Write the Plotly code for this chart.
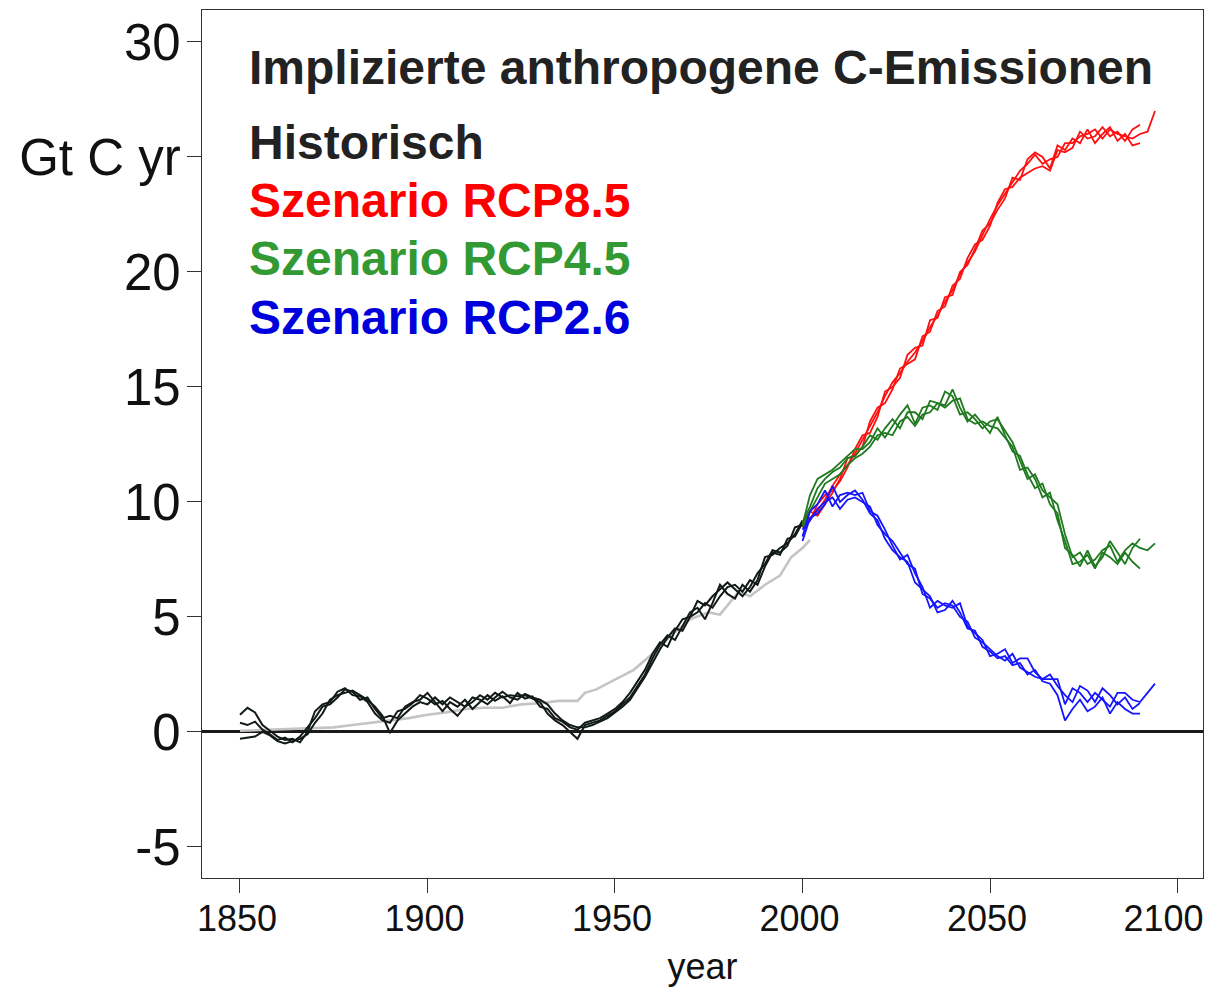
import plotly.graph_objects as go

# ---------------- data ----------------
hist_years = list(range(1850, 2001, 2))
hist_1 = [0.75, 1.05, 0.85, 0.30, 0.05, -0.20, -0.35, -0.30, -0.45, 0.00,
          0.90, 1.20, 1.30, 1.75, 1.90, 1.60, 1.55, 1.30, 0.80, 0.50,
          0.40, 0.90, 1.00, 1.25, 1.60, 1.45, 1.20, 1.35, 1.00, 0.70,
          1.10, 1.30, 1.60, 1.40, 1.70, 1.50, 1.60, 1.55, 1.60, 1.45,
          1.30, 0.80, 0.50, 0.30, 0.00, -0.30, 0.30, 0.40, 0.50, 0.70,
          0.90, 1.20, 1.50, 2.00, 2.50, 3.20, 3.80, 4.20, 4.00, 4.60,
          5.20, 5.40, 4.90, 5.60, 6.40, 6.00, 5.80, 6.40, 6.10, 6.60,
          7.60, 7.70, 8.00, 8.20, 8.60, 9.20]
hist_2 = [0.40, 0.30, 0.45, 0.10, -0.10, -0.35, -0.25, -0.45, -0.20, 0.20,
          0.60, 1.10, 1.20, 1.50, 1.85, 1.75, 1.40, 1.50, 1.00, 0.60,
          0.70, 0.60, 1.10, 1.30, 1.40, 1.70, 1.30, 0.90, 1.30, 1.10,
          1.40, 1.00, 1.30, 1.60, 1.35, 1.55, 1.25, 1.70, 1.45, 1.55,
          1.10, 1.00, 0.60, 0.45, 0.20, 0.10, 0.40, 0.50, 0.60, 0.80,
          1.00, 1.30, 1.70, 2.20, 2.70, 3.40, 3.90, 3.70, 4.40, 4.90,
          5.00, 5.70, 5.50, 5.90, 6.20, 6.50, 6.20, 5.90, 6.30, 6.90,
          7.30, 7.90, 7.80, 8.10, 8.90, 9.00]
hist_3 = [-0.30, -0.25, -0.20, 0.00, -0.15, -0.40, -0.50, -0.40, -0.30, -0.10,
          0.40, 0.80, 1.40, 1.60, 1.70, 1.80, 1.60, 1.40, 1.10, 0.70,
          -0.05, 0.50, 0.80, 1.10, 1.30, 1.20, 1.50, 1.20, 1.50, 1.30,
          1.10, 1.50, 1.40, 1.20, 1.50, 1.75, 1.50, 1.40, 1.65, 1.50,
          1.40, 1.20, 0.80, 0.50, 0.30, 0.20, 0.20, 0.30, 0.45, 0.60,
          0.85, 1.10, 1.40, 1.90, 2.40, 3.00, 3.60, 4.10, 4.50, 4.40,
          5.00, 5.20, 5.60, 5.40, 5.90, 6.30, 6.40, 6.10, 6.60, 6.40,
          7.20, 7.80, 7.70, 8.40, 8.50, 9.10]

smooth_years = [1850, 1855, 1860, 1865, 1870, 1875, 1880, 1885, 1890, 1895,
                1900, 1905, 1910, 1915, 1920, 1925, 1930, 1935, 1940, 1942,
                1945, 1948, 1950, 1955, 1960, 1965, 1970, 1975, 1978, 1980,
                1983, 1986, 1990, 1994, 1997, 2000, 2002]
smooth_hist = [0.05, 0.08, 0.10, 0.12, 0.15, 0.20, 0.30, 0.40, 0.50, 0.60,
               0.75, 0.85, 1.00, 1.05, 1.05, 1.20, 1.25, 1.35, 1.35, 1.70,
               1.85, 2.10, 2.30, 2.70, 3.40, 4.20, 4.90, 5.20, 5.10, 5.50,
               6.10, 5.90, 6.40, 6.80, 7.60, 8.00, 8.35]

scen_years = list(range(2000, 2095, 2))
rcp85_1 = [9.0, 9.3, 9.6, 10.1, 10.7, 11.2, 11.6, 12.1, 12.7, 13.3, 13.9, 14.6,
           15.2, 15.6, 16.1, 16.5, 17.0, 17.6, 18.1, 18.7, 19.2, 19.9, 20.4, 20.9,
           21.6, 22.3, 22.9, 23.4, 23.9, 24.4, 24.7, 25.1, 24.7, 24.9, 25.0, 25.6,
           25.6, 25.9, 26.0, 26.2, 25.8, 26.2, 26.0, 25.9, 25.8, 26.0, 26.1, 27.0]
rcp85_2 = [9.1, 9.6, 9.4, 9.9, 10.4, 11.0, 11.9, 12.0, 12.4, 13.5, 14.1, 14.3,
           14.9, 15.8, 16.0, 16.2, 17.2, 17.4, 18.3, 18.5, 19.4, 19.7, 20.6, 21.2,
           21.4, 22.0, 23.0, 23.6, 23.7, 24.1, 24.3, 24.5, 24.6, 24.4, 25.3, 25.2,
           25.4, 26.1, 25.8, 25.9, 26.3, 25.9, 26.1, 25.7, 26.2, 26.4]
rcp85_3 = [8.9, 9.2, 9.9, 10.3, 10.5, 10.9, 11.5, 12.3, 12.9, 13.0, 13.7, 14.8,
           15.0, 15.4, 16.4, 16.7, 16.8, 17.9, 18.0, 18.9, 19.0, 20.0, 20.3, 21.0,
           21.8, 22.1, 22.7, 23.2, 24.1, 24.0, 24.9, 25.2, 25.0, 24.5, 25.5, 25.3,
           25.8, 25.6, 26.2, 25.6, 26.0, 26.3, 25.7, 26.0, 25.5, 25.6]
rcp45_1 = [9.0, 10.3, 11.0, 11.2, 11.4, 11.7, 12.0, 12.3, 12.3, 12.6, 13.2, 12.8,
           13.3, 13.8, 14.2, 13.4, 14.1, 14.2, 14.0, 14.8, 14.6, 13.8, 13.9, 13.6,
           13.2, 13.5, 13.6, 13.1, 12.6, 11.8, 11.0, 11.2, 10.5, 10.2, 9.9, 8.6,
           7.6, 7.8, 7.3, 7.5, 7.9, 8.1, 7.4, 7.9, 8.2, 8.0, 7.9, 8.2]
rcp45_2 = [9.1, 9.8, 10.6, 11.0, 11.3, 11.5, 11.9, 12.0, 12.4, 12.9, 12.7, 13.2,
           13.6, 13.2, 13.9, 13.9, 13.6, 14.4, 14.3, 14.2, 14.9, 14.1, 13.5, 13.8,
           13.4, 13.0, 13.7, 12.9, 12.2, 12.0, 11.2, 10.6, 10.8, 9.9, 9.5, 8.0,
           7.7, 7.2, 7.9, 7.2, 7.6, 8.3, 7.8, 7.3, 8.0, 8.4]
rcp45_3 = [8.9, 9.6, 10.2, 10.8, 11.0, 11.2, 11.6, 11.9, 12.1, 12.4, 12.9, 13.0,
           12.9, 13.5, 13.7, 13.3, 13.8, 13.9, 14.3, 14.1, 14.4, 14.5, 13.6, 13.4,
           13.5, 13.3, 13.2, 12.8, 12.4, 11.4, 11.5, 11.0, 10.2, 10.4, 9.2, 8.3,
           7.3, 7.4, 7.7, 7.1, 7.8, 7.6, 7.3, 7.8, 7.4, 7.1]
rcp26_1 = [8.5, 9.6, 9.9, 10.5, 9.8, 10.3, 10.4, 10.3, 10.4, 9.6, 9.4, 8.8,
           8.1, 7.5, 7.7, 6.9, 6.3, 5.4, 5.7, 5.5, 5.4, 5.6, 4.6, 4.3,
           4.0, 3.3, 3.4, 3.6, 3.0, 3.2, 3.2, 2.6, 2.3, 2.3, 2.3, 1.2,
           1.9, 1.7, 1.3, 1.7, 1.4, 1.1, 1.7, 1.7, 1.4, 1.3, 1.7, 2.1]
rcp26_2 = [8.8, 9.2, 9.7, 10.0, 10.2, 9.7, 10.1, 10.2, 10.0, 9.8, 9.0, 8.6,
           8.3, 7.8, 7.3, 7.1, 6.0, 5.8, 5.4, 5.6, 5.5, 5.0, 4.8, 4.1,
           3.9, 3.6, 3.3, 3.1, 3.4, 2.8, 2.6, 2.4, 2.3, 2.5, 2.0, 1.6,
           1.3, 2.0, 1.8, 1.3, 1.9, 1.6, 1.2, 1.5, 1.0, 1.26]
rcp26_3 = [8.3, 9.3, 9.5, 9.9, 10.7, 10.0, 10.3, 10.5, 10.1, 9.5, 9.2, 8.4,
           7.9, 7.6, 7.4, 6.5, 6.2, 5.9, 5.2, 5.3, 5.7, 5.2, 4.5, 4.4,
           3.7, 3.5, 3.2, 3.3, 2.9, 3.0, 2.5, 2.7, 2.2, 2.1, 1.6, 0.5,
           1.0, 1.4, 0.9, 1.1, 1.5, 0.8, 1.3, 1.0, 0.8, 0.8]

y_tickvals = [30, 25, 20, 15, 10, 5, 0, -5]
y_ticktext = ["30", "Gt C yr", "20", "15", "10", "5", "0", "-5"]
x_tickvals = [1850, 1900, 1950, 2000, 2050, 2100]
x_ticktext = ["1850", "1900", "1950", "2000", "2050", ""]
x_last_tickval = [2100]
x_last_ticktext = ["2100"]

title_text = "Implizierte anthropogene C-Emissionen"
legend_texts = ["Historisch", "Szenario RCP8.5", "Szenario RCP4.5", "Szenario RCP2.6"]

# ---------------- styles ----------------
C_BLACK = "#111a18"
C_GRAY = "#c4c4c4"
C_RED = "#ff1010"
C_GREEN_LINE = "#1f7a1f"
C_BLUE_LINE = "#1515ff"
legend_colors = ["#222222", "#ff0000", "#339933", "#0000dd"]

FONT = "Liberation Sans, Arial, sans-serif"

fig = go.Figure()

def add_line(x, y, color, width=2.0):
    fig.add_trace(go.Scatter(x=x, y=y, mode="lines",
                             line=dict(color=color, width=width),
                             showlegend=False, hoverinfo="skip"))

add_line(smooth_years, smooth_hist, C_GRAY, 2.6)
for s in (hist_1, hist_2, hist_3):
    add_line(hist_years, s, C_BLACK, 2.0)
for s in (rcp85_1, rcp85_2, rcp85_3):
    add_line(scen_years[:len(s)], s, C_RED, 1.8)
for s in (rcp45_1, rcp45_2, rcp45_3):
    add_line(scen_years[:len(s)], s, C_GREEN_LINE, 1.8)
for s in (rcp26_1, rcp26_2, rcp26_3):
    add_line(scen_years[:len(s)], s, C_BLUE_LINE, 1.8)
# empty trace that activates the overlay axis carrying the last tick label
fig.add_trace(go.Scatter(x=[], y=[], xaxis="x2", yaxis="y", mode="lines",
                         showlegend=False, hoverinfo="skip"))

# page has an 8px body margin; figure sized so the page does not scroll
OFF = 8
W, H = 1213 - 2 * OFF, 995 - 2 * OFF
L, R, T = 202 - OFF, 2, 10 - OFF
B = H - (878 - OFF)
pw, ph = W - L - R, H - T - B

def px(xp):  # screen pixel -> paper x
    return (xp - OFF - L) / pw

def py(yp):  # screen pixel -> paper y
    return (H - B - (yp - OFF)) / ph

annotations = [dict(text="<b>%s</b>" % title_text, x=px(247), y=py(68),
                    xref="paper", yref="paper", xanchor="left", yanchor="middle",
                    showarrow=False, font=dict(family=FONT, size=48, color="#222222"))]
legend_y = [143, 201, 259, 317]
for txt, col, yy in zip(legend_texts, legend_colors, legend_y):
    annotations.append(dict(text="<b>%s</b>" % txt, x=px(247), y=py(yy),
                            xref="paper", yref="paper", xanchor="left", yanchor="middle",
                            showarrow=False, font=dict(family=FONT, size=48, color=col)))

x_range = [1839.87, 2106.8]
xtickfont = dict(family=FONT, size=36, color="#111111")

fig.update_layout(
    width=W, height=H,
    margin=dict(l=L, r=R, t=T, b=B, pad=0, autoexpand=False),
    paper_bgcolor="white", plot_bgcolor="white",
    showlegend=False,
    annotations=annotations,
    xaxis=dict(range=x_range, tickvals=x_tickvals, ticktext=x_ticktext,
               automargin=False,
               ticks="outside", ticklen=14, tickwidth=1, tickcolor="#333333",
               showline=True, linecolor="#333333", linewidth=1.2, mirror=True,
               showgrid=False, zeroline=False,
               ticklabelshift=-3, ticklabelstandoff=-5,
               tickfont=xtickfont,
               title=dict(text="year", font=dict(family=FONT, size=36, color="#111111"),
                          standoff=22)),
    xaxis2=dict(range=x_range, matches="x", overlaying="x", anchor="y", side="bottom",
                tickvals=x_last_tickval, ticktext=x_last_ticktext,
                automargin=False, ticks="outside", ticklen=14, tickcolor="rgba(0,0,0,0)",
                showline=False, showgrid=False, zeroline=False,
                ticklabelshift=-14, ticklabelstandoff=-5, tickfont=xtickfont),
    yaxis=dict(range=[-6.35, 31.39], tickvals=y_tickvals, ticktext=y_ticktext,
               automargin=False,
               ticks="outside", ticklen=14, tickwidth=1, tickcolor="#333333",
               showline=True, linecolor="#333333", linewidth=1.2, mirror=True,
               showgrid=False, zeroline=True, zerolinecolor="#1a1a1a", zerolinewidth=2.5,
               tickfont=dict(family=FONT, size=51, color="#111111"),
               ticklabelstandoff=-4),
)

fig.write_html("out.html")
